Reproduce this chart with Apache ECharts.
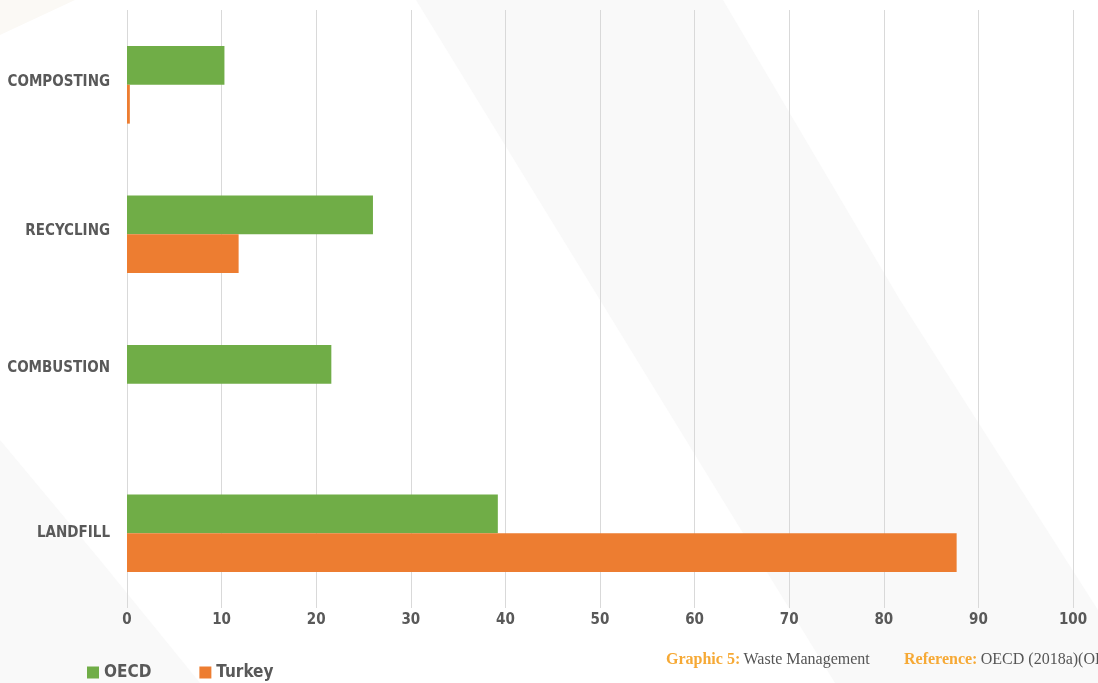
<!DOCTYPE html>
<html>
<head>
<meta charset="utf-8">
<script src="https://cdn.jsdelivr.net/npm/echarts@6/dist/echarts.min.js"></script>
<style>
html,body{margin:0;padding:0;background:#fff;}
#chart{width:1098px;height:683px;}
</style>
</head>
<body>
<div id="chart"></div>
<script>
const categories = ['COMPOSTING', 'RECYCLING', 'COMBUSTION', 'LANDFILL'];
const oecdValues = [10.3, 26.0, 21.6, 39.2];
const turkeyValues = [0.3, 11.8, 0, 87.7];
const xTicks = [0, 10, 20, 30, 40, 50, 60, 70, 80, 90, 100];
const seriesNames = ['OECD', 'Turkey'];
const captionLabel = 'Graphic 5:';
const captionText = 'Waste Management';
const referenceLabel = 'Reference:';
const referenceText = 'OECD (2018a)(OECD, 2018)';

const chart = echarts.init(document.getElementById('chart'));
const labelFont = '"DejaVu Sans Condensed", "Liberation Sans Narrow", sans-serif';
const textColor = '#595959';
const serif = '"Liberation Serif", "DejaVu Serif", serif';

// vertical nudges of category labels as placed in the original
const labelShift = { COMPOSTING: 6, RECYCLING: 6, COMBUSTION: 32, LANDFILL: 0 };
const labelRich = {};
categories.forEach((c, i) => {
  labelRich['c' + i] = {
    fontFamily: labelFont, fontWeight: 'bold', fontSize: 15, color: textColor,
    padding: [0, 0, labelShift[c], 0]
  };
});

const orangeText = { fontFamily: serif, fontWeight: 'bold', fontSize: 16, fill: '#f6a935', color: '#f6a935' };
const greyText = { fontFamily: serif, fontSize: 16, fill: '#555555', color: '#555555' };

chart.setOption({
  backgroundColor: '#ffffff',
  animation: false,
  graphic: [
    { type: 'polygon', z: -10, silent: true,
      shape: { points: [[416,0],[723,0],[900,300],[1098,610],[1098,683],[835,683]] },
      style: { fill: '#f9f9f9' } },
    { type: 'polygon', z: -10, silent: true,
      shape: { points: [[0,440],[100,560],[200,683],[0,683]] },
      style: { fill: '#f9f9f9' } },
    { type: 'polygon', z: -10, silent: true,
      shape: { points: [[0,0],[75,0],[0,35]] },
      style: { fill: '#fbf9f5' } },
    { type: 'text', left: 666, top: 652, silent: true,
      style: {
        text: '{b|' + captionLabel + '} {n|' + captionText + '}',
        rich: { b: orangeText, n: greyText }
      } },
    { type: 'text', left: 904, top: 652, silent: true,
      style: {
        text: '{b|' + referenceLabel + '} {n|' + referenceText + '}',
        rich: { b: orangeText, n: greyText }
      } }
  ],
  legend: {
    left: 82, top: 659,
    itemWidth: 12, itemHeight: 12, itemGap: 48,
    icon: 'rect',
    data: seriesNames,
    textStyle: { fontFamily: labelFont, fontWeight: 'bold', fontSize: 17, color: textColor }
  },
  grid: { left: 127, right: 25, top: 10, bottom: 75, containLabel: false },
  xAxis: {
    type: 'value', min: xTicks[0], max: xTicks[xTicks.length - 1], interval: 10,
    axisLine: { show: false }, axisTick: { show: false },
    splitLine: { show: true, lineStyle: { color: '#d9d9d9', width: 1 } },
    axisLabel: { margin: 5, fontFamily: labelFont, fontWeight: 'bold', fontSize: 15, color: textColor }
  },
  yAxis: {
    type: 'category', data: categories, inverse: true,
    axisLine: { show: false }, axisTick: { show: false },
    axisLabel: {
      margin: 17,
      formatter: (v) => '{c' + categories.indexOf(v) + '|' + v + '}',
      rich: labelRich
    }
  },
  series: [
    { name: seriesNames[0], type: 'bar', data: oecdValues, barGap: '0%', barCategoryGap: '48%',
      itemStyle: { color: '#70ad47' } },
    { name: seriesNames[1], type: 'bar', data: turkeyValues, barGap: '0%', barCategoryGap: '48%',
      itemStyle: { color: '#ed7d31' } }
  ]
});
</script>
</body>
</html>
